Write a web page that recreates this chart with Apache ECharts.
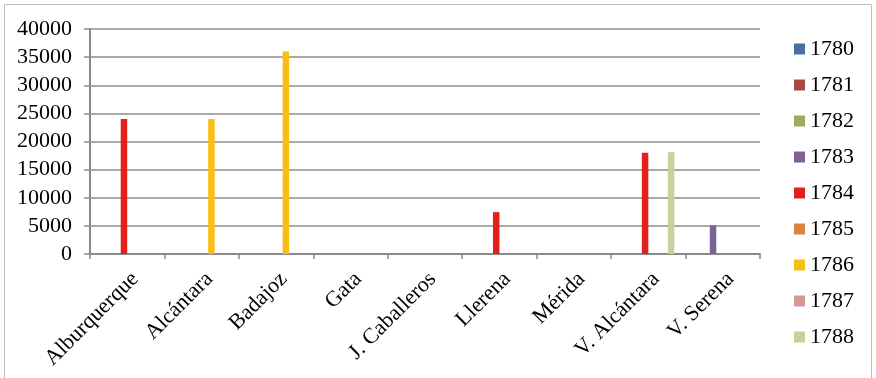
<!DOCTYPE html>
<html>
<head>
<meta charset="utf-8">
<script src="https://cdn.jsdelivr.net/npm/echarts@6/dist/echarts.min.js"></script>
<style>
html,body{margin:0;padding:0;background:#fff;}
#chart{width:876px;height:378px;}
</style>
</head>
<body>
<div id="chart"></div>
<script>
const categories = ['Alburquerque', 'Alcántara', 'Badajoz', 'Gata', 'J. Caballeros', 'Llerena', 'Mérida', 'V. Alcántara', 'V. Serena'];
const years = ['1780', '1781', '1782', '1783', '1784', '1785', '1786', '1787', '1788'];
const colors = ['#4A6FA6', '#AA4643', '#9BAF58', '#7D6395', '#E31F1C', '#DB843D', '#F8BE15', '#D59894', '#C4D29C'];
const v1780 = [null, null, null, null, null, null, null, null, null];
const v1781 = [null, null, null, null, null, null, null, null, null];
const v1782 = [null, null, null, null, null, null, null, null, null];
const v1783 = [null, null, null, null, null, null, null, null, 5100];
const v1784 = [24000, null, null, null, null, 7450, null, 18000, null];
const v1785 = [null, null, null, null, null, null, null, null, null];
const v1786 = [null, 24000, 36000, null, null, null, null, null, null];
const v1787 = [null, null, null, null, null, null, null, null, null];
const v1788 = [null, null, null, null, null, null, null, 18100, null];
const seriesValues = [v1780, v1781, v1782, v1783, v1784, v1785, v1786, v1787, v1788];
// tenth (empty) slot present in the original layout, not shown in the legend
const vBlank = [null, null, null, null, null, null, null, null, null];

const FONT = 'Liberation Serif';
const FS = 22;
const chart = echarts.init(document.getElementById('chart'), null, {renderer: 'canvas'});

const series = years.map((y, i) => ({
  name: y,
  type: 'bar',
  data: seriesValues[i],
  barWidth: 6.5,
  barGap: '0%',
  itemStyle: {color: colors[i]},
  emphasis: {disabled: true}
}));
series.push({name: '', type: 'bar', data: vBlank, barWidth: 6.5, barGap: '0%', itemStyle: {color: 'transparent'}});

chart.setOption({
  animation: false,
  color: colors,
  graphic: [{
    type: 'rect',
    shape: {x: 4.5, y: 4.5, width: 867, height: 380},
    style: {fill: 'none', stroke: '#BDBDBD', lineWidth: 1},
    silent: true
  }],
  grid: {left: 90, top: 29, right: 116, bottom: 124},
  legend: {
    data: years,
    orient: 'vertical',
    left: 789,
    top: 33,
    padding: 5,
    itemWidth: 11,
    itemHeight: 11,
    itemGap: 14,
    icon: 'rect',
    textStyle: {fontFamily: FONT, fontSize: FS, color: '#000'}
  },
  xAxis: {
    type: 'category',
    data: categories,
    boundaryGap: true,
    axisLine: {show: true, lineStyle: {color: '#8A8A8A', width: 2}},
    axisTick: {show: true, length: 5, alignWithLabel: false, lineStyle: {color: '#8A8A8A', width: 1.5}},
    axisLabel: {
      interval: 0,
      rotate: 45,
      margin: 14,
      verticalAlign: 'top',
      fontFamily: FONT,
      fontSize: FS,
      color: '#000'
    }
  },
  yAxis: {
    type: 'value',
    min: 0,
    max: 40000,
    interval: 5000,
    axisLine: {show: true, lineStyle: {color: '#8A8A8A', width: 2}},
    axisTick: {show: true, length: 6, lineStyle: {color: '#8A8A8A', width: 1.5}},
    splitLine: {show: true, lineStyle: {color: '#8C8C8C', width: 1.5}},
    axisLabel: {margin: 18, fontFamily: FONT, fontSize: FS, color: '#000', formatter: (v) => String(v)}
  },
  series: series
});
</script>
</body>
</html>
